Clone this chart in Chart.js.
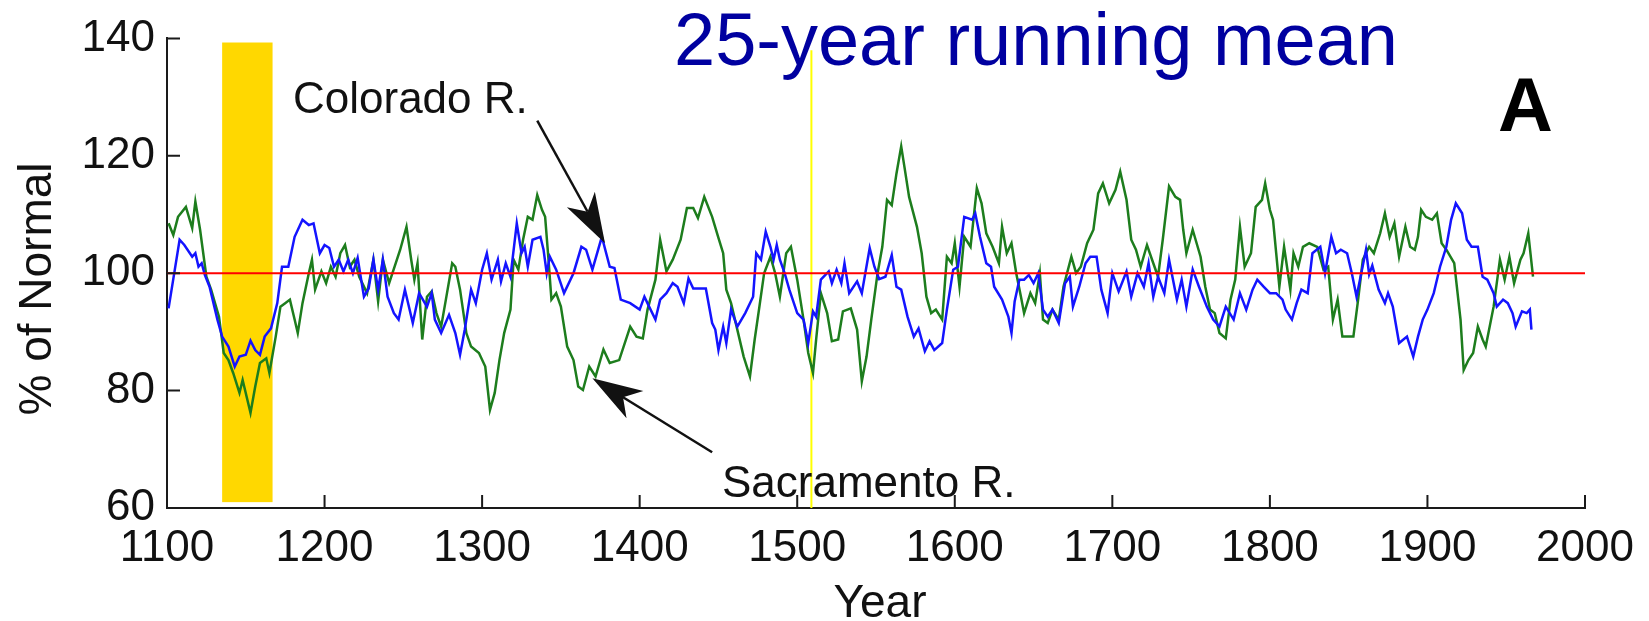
<!DOCTYPE html>
<html>
<head>
<meta charset="utf-8">
<script src="https://cdn.jsdelivr.net/npm/chart.js@4.4.1/dist/chart.umd.min.js"></script>
<style>
  html, body { margin: 0; padding: 0; background: #fff; }
  #wrap { width: 1649px; height: 621px; }
</style>
</head>
<body>
<div id="wrap"><canvas id="chartA" width="1649" height="621"></canvas></div>
<script>
// --- data ---
const coloradoYears = [1101,1108,1111,1116,1118,1120,1122,1124,1127,1132,1135,1139,1143,1146,1150,1153,1156,1159,1162,1166,1170,1173,1177,1181,1186,1190,1193,1197,1200,1203,1206,1209,1212,1215,1218,1221,1225,1228,1231,1234,1237,1240,1244,1247,1251,1256,1260,1265,1268,1270,1274,1279,1283,1286,1289,1293,1296,1300,1303,1306,1310,1312,1315,1318,1322,1325,1327,1329,1332,1337,1339,1341,1343,1347,1352,1358,1363,1366,1370,1376,1381,1384,1388,1394,1400,1403,1406,1410,1413,1417,1421,1424,1428,1431,1434,1438,1442,1446,1448,1450,1453,1455,1458,1462,1467,1472,1474,1477,1480,1483,1485,1487,1489,1492,1495,1500,1504,1507,1510,1512,1515,1520,1522,1525,1528,1530,1533,1538,1541,1546,1549,1552,1556,1560,1563,1566,1570,1574,1577,1581,1584,1587,1592,1595,1599,1602,1606,1611,1613,1616,1620,1623,1625,1630,1634,1636,1638,1641,1644,1647,1650,1653,1656,1659,1662,1666,1670,1673,1675,1679,1683,1686,1690,1693,1697,1700,1704,1709,1712,1716,1720,1723,1726,1729,1733,1736,1741,1744,1747,1751,1755,1760,1764,1768,1772,1777,1781,1785,1789,1792,1796,1800,1804,1808,1810,1814,1817,1820,1824,1827,1832,1835,1839,1842,1845,1849,1852,1855,1858,1861,1863,1865,1869,1873,1875,1878,1882,1887,1891,1894,1897,1900,1904,1908,1912,1915,1918,1922,1925,1928,1932,1935,1938,1942,1944,1948,1951,1954,1956,1960,1963,1965,1966];
const coloradoValues = [94.0,105.7,104.8,102.8,103.4,101.1,101.7,99.7,97.7,92.1,89.2,87.5,84.1,85.8,86.1,88.5,86.9,86.1,89.2,90.6,94.9,101.1,101.1,106.2,109.1,108.2,108.5,103.4,104.8,104.3,101.1,102.3,100.3,102.3,100.0,102.6,96.0,97.4,102.3,97.2,102.3,96.0,93.2,92.1,97.2,91.5,96.6,94.3,96.6,92.1,89.8,92.9,89.8,86.1,90.4,97.2,94.9,100.6,103.4,98.9,102.3,98.6,101.7,99.4,108.5,103.4,104.5,101.1,105.7,106.2,104.0,100.0,102.8,100.6,96.6,100.0,104.5,104.0,100.6,106.2,101.1,100.9,95.5,94.9,93.8,96.0,94.3,92.1,95.5,96.6,98.3,97.7,94.9,99.1,97.4,97.4,97.4,91.5,90.4,86.9,90.9,88.1,93.8,90.9,93.2,96.0,103.4,102.3,107.1,104.5,102.3,104.8,102.3,100.0,97.2,93.2,92.1,88.1,93.5,92.6,98.9,100.3,98.3,100.6,98.3,101.7,96.6,98.6,96.6,104.3,101.1,99.0,99.4,103.1,97.7,97.2,92.6,89.2,90.6,86.7,88.4,86.9,88.1,93.8,100.6,101.1,109.6,109.1,110.2,106.2,101.7,101.1,97.7,95.5,92.6,89.8,95.2,98.9,98.9,99.7,98.3,100.0,93.8,92.6,93.8,91.5,98.3,99.4,94.3,97.7,101.7,102.8,102.8,97.2,93.2,100.0,96.9,100.3,96.0,100.0,97.7,101.7,96.0,99.4,96.6,102.3,95.5,98.9,94.3,100.6,97.7,94.3,92.1,90.9,94.3,92.1,96.6,93.8,97.2,98.9,97.7,96.6,96.6,95.5,93.8,92.1,94.9,97.2,96.6,103.4,104.5,100.0,106.2,103.4,104.0,103.4,100.0,96.0,100.0,104.0,99.8,101.3,97.2,94.9,96.6,94.3,88.1,89.2,85.8,89.2,92.1,93.8,96.6,101.1,104.5,109.1,111.9,110.2,105.7,104.5,104.5,99.4,98.9,96.6,94.3,95.5,94.9,93.2,90.9,93.5,93.2,93.8,90.4];

const sacramentoYears = [1101,1104,1107,1112,1116,1118,1121,1125,1128,1133,1136,1139,1142,1146,1148,1153,1156,1159,1163,1165,1169,1172,1175,1178,1181,1183,1186,1190,1192,1194,1198,1201,1204,1207,1210,1213,1216,1219,1222,1227,1231,1234,1237,1241,1248,1252,1255,1257,1259,1262,1265,1268,1271,1274,1277,1281,1283,1286,1290,1293,1298,1302,1305,1308,1311,1314,1318,1320,1323,1326,1329,1332,1335,1338,1340,1342,1344,1347,1350,1354,1358,1361,1364,1368,1372,1377,1381,1387,1394,1398,1402,1405,1410,1413,1417,1421,1426,1430,1434,1437,1441,1446,1450,1453,1455,1458,1461,1466,1470,1473,1476,1479,1483,1486,1489,1493,1496,1500,1504,1507,1510,1512,1515,1519,1522,1526,1529,1534,1538,1541,1544,1547,1551,1554,1557,1560,1563,1566,1568,1571,1576,1579,1582,1585,1588,1592,1595,1598,1600,1603,1606,1610,1614,1617,1620,1624,1628,1630,1633,1636,1639,1642,1644,1648,1651,1654,1656,1659,1662,1666,1669,1674,1677,1680,1684,1688,1691,1694,1698,1702,1705,1709,1712,1715,1718,1722,1726,1729,1732,1736,1740,1743,1745,1747,1751,1756,1759,1762,1765,1768,1772,1775,1778,1781,1784,1788,1791,1795,1797,1800,1802,1804,1806,1809,1813,1815,1818,1821,1825,1830,1834,1837,1840,1843,1846,1851,1853,1856,1859,1863,1866,1870,1873,1876,1879,1882,1886,1889,1892,1894,1896,1899,1903,1906,1909,1912,1917,1921,1923,1926,1929,1932,1935,1937,1942,1946,1949,1952,1955,1959,1961,1964,1967];
const sacramentoValues = [108.5,106.5,109.6,111.3,107.7,112.2,107.4,99.4,97.2,92.6,86.4,85.2,83.0,79.6,81.8,76.2,80.7,84.7,85.5,83.0,89.2,94.3,94.9,95.5,92.1,89.8,94.9,100.0,102.3,97.2,100.3,98.3,101.1,99.4,103.4,104.8,101.1,102.3,99.4,96.6,102.3,95.2,102.3,98.3,104.0,107.9,102.3,98.9,101.7,88.7,96.0,96.9,93.2,90.9,95.5,101.7,101.1,97.2,89.8,87.5,86.4,84.1,76.7,79.6,85.2,89.8,93.8,102.3,100.6,105.7,109.6,109.1,113.3,110.8,109.6,102.8,95.5,96.6,94.3,87.5,85.2,80.7,80.1,84.1,82.4,87.0,84.7,85.2,90.9,89.2,88.9,93.8,98.9,105.7,100.3,102.3,105.7,111.1,111.1,109.4,113.0,109.6,106.0,103.4,97.2,94.9,91.5,85.8,82.4,88.7,94.3,100.0,102.8,100.0,96.0,103.4,104.5,98.9,92.1,86.4,83.0,88.7,96.6,93.2,88.4,88.7,93.5,94.0,90.4,81.6,85.8,92.1,100.0,104.5,112.5,111.6,117.0,121.6,118.2,113.0,107.9,103.4,96.0,93.2,93.8,92.1,102.8,101.7,105.1,97.7,106.2,104.5,114.5,111.9,106.8,104.5,101.7,107.9,103.4,105.1,100.0,96.0,93.2,96.6,94.9,100.0,92.1,91.5,93.8,92.1,97.7,102.8,100.0,101.1,105.1,107.4,113.6,115.3,111.9,114.2,117.3,112.5,105.7,104.0,101.1,104.8,101.7,99.4,105.7,114.8,113.0,112.5,107.4,103.4,107.4,102.8,97.7,93.8,93.2,89.8,88.9,95.5,98.9,107.9,101.1,103.4,111.3,112.5,115.3,110.8,109.1,103.4,97.7,104.5,97.2,103.4,101.1,104.5,105.1,104.5,100.6,101.1,92.1,95.5,89.2,89.2,89.2,95.5,102.3,104.5,103.4,106.8,110.2,106.2,108.5,102.8,107.9,104.5,104.0,106.2,110.8,109.6,109.1,110.2,105.1,104.0,101.7,92.1,83.5,85.2,86.4,90.9,88.7,87.5,94.3,102.3,98.9,102.8,98.3,102.3,103.4,106.8,99.4];

const normalYears = [1100, 2000];
const normalValues = [100, 100];
const droughtYears = [1135, 1167];
const droughtRange = [61, 139.3];
const markerYears = [1509, 1509];
const markerRange = [60, 138];

const xTickValues = [1100, 1200, 1300, 1400, 1500, 1600, 1700, 1800, 1900, 2000];
const yTickValues = [60, 80, 100, 120, 140];

const FONT = "'Liberation Sans', Arial, Helvetica, sans-serif";

function pairs(xs, ys) {
  return xs.map((v, i) => ({x: v, y: ys[i]}));
}

function drawArrow(ctx, x0, y0, x1, y1) {
  const dx = x1 - x0, dy = y1 - y0, len = Math.hypot(dx, dy);
  const ux = dx / len, uy = dy / len, px = -uy, py = ux;
  const hl = 50, hw = 16, notch = 36;
  ctx.beginPath();
  ctx.moveTo(x0, y0);
  ctx.lineTo(x1 - ux * notch, y1 - uy * notch);
  ctx.stroke();
  ctx.beginPath();
  ctx.moveTo(x1, y1);
  ctx.lineTo(x1 - ux * hl + px * hw, y1 - uy * hl + py * hw);
  ctx.lineTo(x1 - ux * notch, y1 - uy * notch);
  ctx.lineTo(x1 - ux * hl - px * hw, y1 - uy * hl - py * hw);
  ctx.closePath();
  ctx.fill();
}

// band, inward ticks, labels and arrows
const decor = {
  id: 'decor',
  beforeDatasetsDraw(chart) {
    const {ctx, scales: {x, y}} = chart;
    const x0 = x.getPixelForValue(droughtYears[0]);
    const x1 = x.getPixelForValue(droughtYears[1]);
    const y0 = y.getPixelForValue(droughtRange[1]);
    const y1 = y.getPixelForValue(droughtRange[0]);
    ctx.save();
    ctx.fillStyle = '#ffd800';
    ctx.fillRect(x0, y0, x1 - x0, y1 - y0);
    ctx.restore();
  },
  afterDraw(chart) {
    const {ctx, chartArea: area, scales: {x, y}} = chart;
    ctx.save();

    // ticks point into the plot
    ctx.strokeStyle = '#1a1a1a';
    ctx.lineWidth = 2;
    ctx.beginPath();
    yTickValues.forEach(v => {
      const py = y.getPixelForValue(v);
      ctx.moveTo(area.left, py);
      ctx.lineTo(area.left + 13, py);
    });
    xTickValues.forEach(v => {
      const px = x.getPixelForValue(v);
      ctx.moveTo(px, area.bottom);
      ctx.lineTo(px, area.bottom - 13);
    });
    ctx.stroke();

    // title
    ctx.fillStyle = '#0000a0';
    ctx.font = '74px ' + FONT;
    ctx.textBaseline = 'alphabetic';
    ctx.textAlign = 'left';
    ctx.fillText('25-year running mean', 674, 65);

    // panel letter
    ctx.fillStyle = '#000';
    ctx.font = 'bold 76px ' + FONT;
    ctx.fillText('A', 1498, 131);

    // series labels
    ctx.font = '44px ' + FONT;
    ctx.fillStyle = '#111';
    ctx.fillText('Colorado R.', 293, 113);
    ctx.fillText('Sacramento R.', 722, 497);

    // arrows
    ctx.strokeStyle = '#111';
    ctx.fillStyle = '#111';
    ctx.lineWidth = 2.5;
    drawArrow(ctx, x.getPixelForValue(1335), y.getPixelForValue(126), x.getPixelForValue(1378), y.getPixelForValue(105.1));
    drawArrow(ctx, x.getPixelForValue(1446), y.getPixelForValue(69.5), x.getPixelForValue(1370), y.getPixelForValue(82.1));

    // axis titles
    ctx.fillStyle = '#111';
    ctx.font = '46px ' + FONT;
    ctx.textAlign = 'center';
    ctx.fillText('Year', (area.left + area.right) / 2 + 4, 617);
    ctx.translate(51, 289);
    ctx.rotate(-Math.PI / 2);
    ctx.fillText('% of Normal', 0, 0);

    ctx.restore();
  }
};

new Chart(document.getElementById('chartA'), {
  type: 'line',
  data: {
    datasets: [
      {
        label: 'Normal',
        data: pairs(normalYears, normalValues),
        borderColor: '#ff0000',
        borderWidth: 2,
        pointRadius: 0
      },
      {
        label: 'Colorado R.',
        data: pairs(coloradoYears, coloradoValues),
        borderColor: '#1414ff',
        borderWidth: 2.5,
        pointRadius: 0,
        tension: 0
      },
      {
        label: 'Sacramento R.',
        data: pairs(sacramentoYears, sacramentoValues),
        borderColor: '#1d7d1d',
        borderWidth: 2.5,
        pointRadius: 0,
        tension: 0
      },
      {
        label: 'marker',
        data: pairs(markerYears, markerRange),
        borderColor: '#ffff00',
        borderWidth: 2,
        pointRadius: 0
      }
    ]
  },
  options: {
    responsive: false,
    animation: false,
    layout: { padding: { left: 0, right: 64, top: 38, bottom: 0 } },
    plugins: {
      legend: { display: false },
      tooltip: { enabled: false }
    },
    scales: {
      x: {
        type: 'linear',
        min: 1100,
        max: 2000,
        afterBuildTicks: s => { s.ticks = xTickValues.map(v => ({value: v})); },
        afterFit: s => { s.height = 113; },
        grid: { display: false, drawTicks: false },
        border: { display: true, color: '#1a1a1a', width: 2 },
        ticks: {
          color: '#111',
          padding: 14,
          maxRotation: 0,
          callback: v => String(v),
          font: { family: FONT, size: 44 }
        }
      },
      y: {
        min: 60,
        max: 140,
        afterBuildTicks: s => { s.ticks = yTickValues.map(v => ({value: v})); },
        afterFit: s => { s.width = 167; },
        grid: { display: false, drawTicks: false },
        border: { display: true, color: '#1a1a1a', width: 2 },
        ticks: {
          color: '#111',
          padding: 12,
          callback: v => String(v),
          font: { family: FONT, size: 44 }
        }
      }
    }
  },
  plugins: [decor]
});
</script>
</body>
</html>
